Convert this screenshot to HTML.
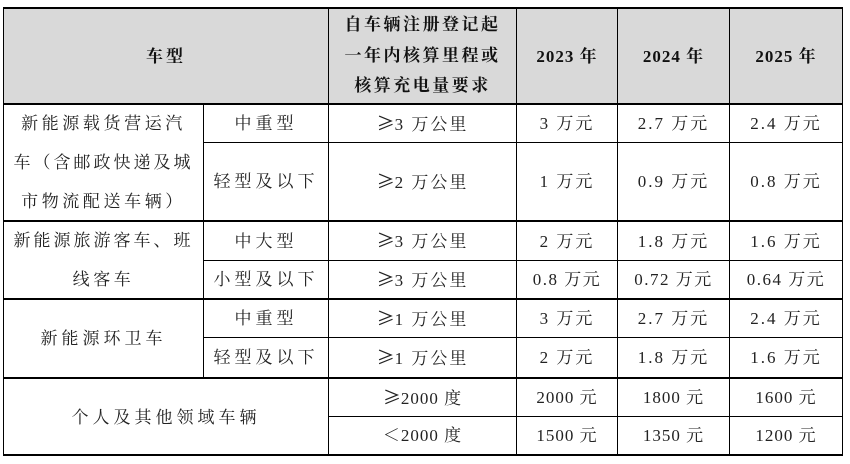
<!DOCTYPE html>
<html><head><meta charset="utf-8"><style>
body{margin:0;width:850px;height:464px;background:#fff;position:relative;overflow:hidden;font-family:"Liberation Serif","Noto Serif CJK SC",serif;color:#222}
.h{position:absolute;background:#000}
.c{position:absolute;display:flex;flex-direction:column;align-items:center;justify-content:center;font-size:17px;letter-spacing:2px;text-align:center;line-height:31px;white-space:nowrap}
.b{font-weight:bold;color:#111;letter-spacing:1px}
.t{position:absolute;font-size:17px;letter-spacing:3.6px;white-space:nowrap;text-align:center;line-height:20px}
.g{font-family:"Noto Sans CJK SC",sans-serif;font-size:18px;letter-spacing:0}
.k{letter-spacing:4px}
</style></head><body>
<div style="position:absolute;left:4px;top:8px;width:838px;height:96px;background:#d9d9d9"></div>
<div class="h" style="left:3px;top:7px;width:840px;height:2px"></div>
<div class="h" style="left:3px;top:103px;width:840px;height:2px"></div>
<div class="h" style="left:203px;top:142px;width:640px;height:1px"></div>
<div class="h" style="left:3px;top:220px;width:840px;height:2px"></div>
<div class="h" style="left:203px;top:260px;width:640px;height:1px"></div>
<div class="h" style="left:3px;top:298px;width:840px;height:2px"></div>
<div class="h" style="left:203px;top:337px;width:640px;height:1px"></div>
<div class="h" style="left:3px;top:377px;width:840px;height:2px"></div>
<div class="h" style="left:328px;top:416px;width:515px;height:1px"></div>
<div class="h" style="left:3px;top:454px;width:840px;height:2px"></div>
<div class="h" style="left:3px;top:7px;width:1px;height:449px"></div>
<div class="h" style="left:203px;top:104px;width:1px;height:274px"></div>
<div class="h" style="left:328px;top:7px;width:1px;height:449px"></div>
<div class="h" style="left:516px;top:7px;width:1px;height:449px"></div>
<div class="h" style="left:617px;top:7px;width:1px;height:449px"></div>
<div class="h" style="left:729px;top:7px;width:1px;height:449px"></div>
<div class="h" style="left:842px;top:7px;width:1px;height:449px"></div>

<div class="c b" style="left:4px;top:8px;width:324px;height:96px;letter-spacing:3px">车型</div>
<div class="c b" style="left:329px;top:8px;width:187px;height:96px;letter-spacing:2.5px;line-height:30.5px">自车辆注册登记起<br>一年内核算里程或<br>核算充电量要求</div>
<div class="c b" style="left:517px;top:8px;width:100px;height:96px">2023 年</div>
<div class="c b" style="left:618px;top:8px;width:111px;height:96px">2024 年</div>
<div class="c b" style="left:730px;top:8px;width:112px;height:96px">2025 年</div>

<div class="t" style="left:4px;width:199px;top:114px">新能源载货营运汽</div>
<div class="t" style="left:4px;width:199px;top:153px;letter-spacing:3px">车（含邮政快递及城</div>
<div class="t" style="left:4px;width:199px;top:192px">市物流配送车辆）</div>
<div class="t" style="left:4px;width:199px;top:231px;letter-spacing:3px">新能源旅游客车、班</div>
<div class="t" style="left:4px;width:199px;top:270px">线客车</div>
<div class="c k" style="left:4px;top:300px;width:199px;height:77px">新能源环卫车</div>
<div class="c k" style="left:4px;top:379px;width:324px;height:76px">个人及其他领域车辆</div>

<div class="c k" style="left:204px;top:105px;width:124px;height:37px">中重型</div>
<div class="c k" style="left:204px;top:143px;width:124px;height:77px">轻型及以下</div>
<div class="c k" style="left:204px;top:222px;width:124px;height:38px">中大型</div>
<div class="c k" style="left:204px;top:261px;width:124px;height:37px">小型及以下</div>
<div class="c k" style="left:204px;top:300px;width:124px;height:37px">中重型</div>
<div class="c k" style="left:204px;top:338px;width:124px;height:39px">轻型及以下</div>

<div class="c" style="left:329px;top:105px;width:187px;height:37px"><span><span class="g">≥</span>3 万公里</span></div>
<div class="c" style="left:517px;top:105px;width:100px;height:37px">3 万元</div>
<div class="c" style="left:618px;top:105px;width:111px;height:37px">2.7 万元</div>
<div class="c" style="left:730px;top:105px;width:112px;height:37px">2.4 万元</div>

<div class="c" style="left:329px;top:143px;width:187px;height:77px"><span><span class="g">≥</span>2 万公里</span></div>
<div class="c" style="left:517px;top:143px;width:100px;height:77px">1 万元</div>
<div class="c" style="left:618px;top:143px;width:111px;height:77px">0.9 万元</div>
<div class="c" style="left:730px;top:143px;width:112px;height:77px">0.8 万元</div>

<div class="c" style="left:329px;top:222px;width:187px;height:38px"><span><span class="g">≥</span>3 万公里</span></div>
<div class="c" style="left:517px;top:222px;width:100px;height:38px">2 万元</div>
<div class="c" style="left:618px;top:222px;width:111px;height:38px">1.8 万元</div>
<div class="c" style="left:730px;top:222px;width:112px;height:38px">1.6 万元</div>

<div class="c" style="left:329px;top:261px;width:187px;height:37px"><span><span class="g">≥</span>3 万公里</span></div>
<div class="c" style="left:517px;top:261px;width:100px;height:37px;letter-spacing:1.5px">0.8 万元</div>
<div class="c" style="left:618px;top:261px;width:111px;height:37px;letter-spacing:1.5px">0.72 万元</div>
<div class="c" style="left:730px;top:261px;width:112px;height:37px;letter-spacing:1.5px">0.64 万元</div>

<div class="c" style="left:329px;top:300px;width:187px;height:37px"><span><span class="g">≥</span>1 万公里</span></div>
<div class="c" style="left:517px;top:300px;width:100px;height:37px">3 万元</div>
<div class="c" style="left:618px;top:300px;width:111px;height:37px">2.7 万元</div>
<div class="c" style="left:730px;top:300px;width:112px;height:37px">2.4 万元</div>

<div class="c" style="left:329px;top:338px;width:187px;height:39px"><span><span class="g">≥</span>1 万公里</span></div>
<div class="c" style="left:517px;top:338px;width:100px;height:39px">2 万元</div>
<div class="c" style="left:618px;top:338px;width:111px;height:39px">1.8 万元</div>
<div class="c" style="left:730px;top:338px;width:112px;height:39px">1.6 万元</div>

<div class="c" style="left:329px;top:379px;width:187px;height:37px;letter-spacing:1px"><span><span class="g">≥</span>2000 度</span></div>
<div class="c" style="left:517px;top:379px;width:100px;height:37px;letter-spacing:1px">2000 元</div>
<div class="c" style="left:618px;top:379px;width:111px;height:37px;letter-spacing:1px">1800 元</div>
<div class="c" style="left:730px;top:379px;width:112px;height:37px;letter-spacing:1px">1600 元</div>

<div class="c" style="left:329px;top:417px;width:187px;height:37px;letter-spacing:1px">＜2000 度</div>
<div class="c" style="left:517px;top:417px;width:100px;height:37px;letter-spacing:1px">1500 元</div>
<div class="c" style="left:618px;top:417px;width:111px;height:37px;letter-spacing:1px">1350 元</div>
<div class="c" style="left:730px;top:417px;width:112px;height:37px;letter-spacing:1px">1200 元</div>
</body></html>
